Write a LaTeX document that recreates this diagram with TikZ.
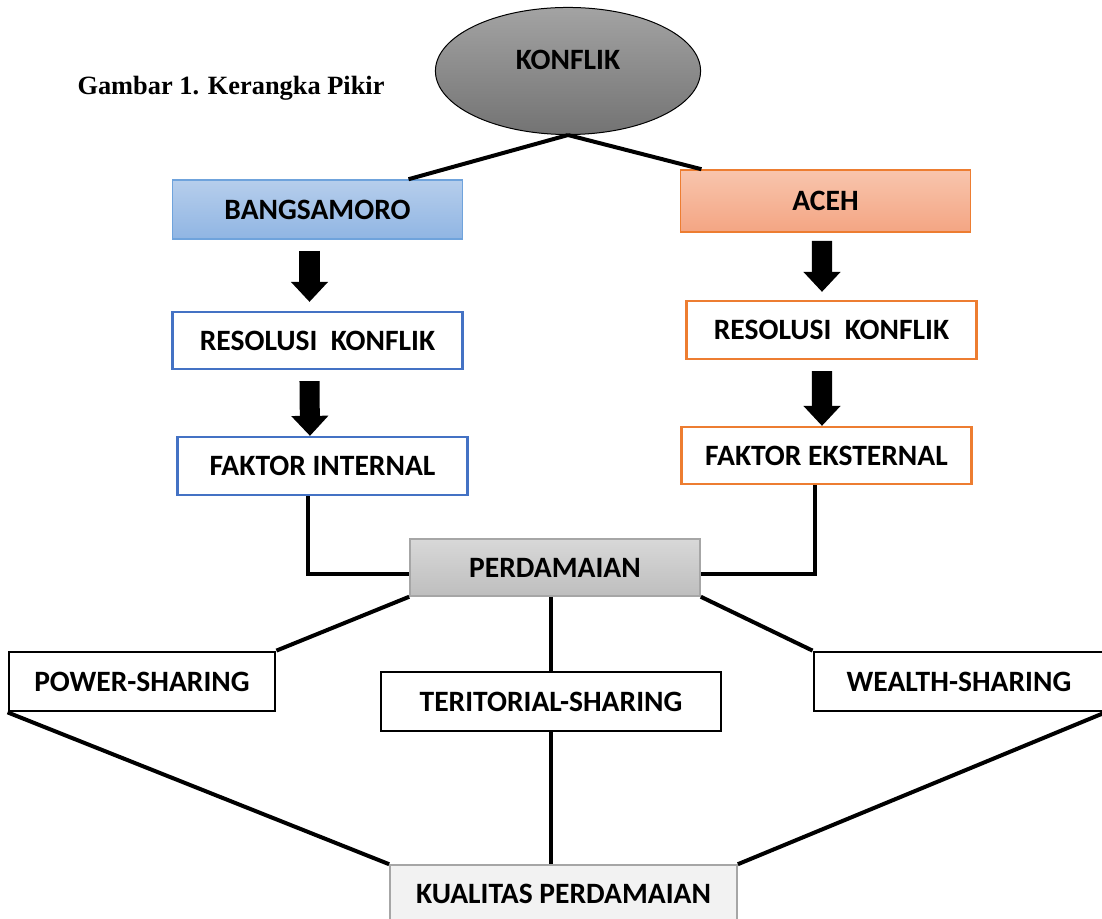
\documentclass[tikz,border=0pt]{standalone}
\usepackage{fontspec}
\setmainfont{Carlito}
\newfontfamily\judulfont{Liberation Serif}
\usetikzlibrary{shapes.geometric,arrows.meta}

\definecolor{abuatas}{HTML}{A3A3A3}
\definecolor{abubawah}{HTML}{737373}
\definecolor{biruatas}{HTML}{B6CEEC}
\definecolor{birubawah}{HTML}{90B5E3}
\definecolor{birutipis}{HTML}{6FA3DC}
\definecolor{birugaris}{HTML}{4472C4}
\definecolor{oranyeatas}{HTML}{F8C5AD}
\definecolor{oranyebawah}{HTML}{F4A583}
\definecolor{oranyegaris}{HTML}{ED7D31}
\definecolor{damaiatas}{HTML}{D8D8D8}
\definecolor{damaibawah}{HTML}{BEBEBE}
\definecolor{damaigaris}{HTML}{A6A6A6}
\definecolor{kualitasisi}{HTML}{F2F2F2}

\begin{document}
\begin{tikzpicture}[x=0.01cm,y=-0.01cm,
  every node/.style={font=\fontsize{8.4}{10}\selectfont\bfseries},
  kotak/.style={rectangle,minimum width=2.9cm,minimum height=0.58cm,inner sep=0pt},
  biru/.style={kotak,draw=birugaris,line width=0.022cm,fill=white},
  oranye/.style={kotak,draw=oranyegaris,line width=0.022cm,fill=white},
  hitam/.style={kotak,draw=black,line width=0.027cm,fill=white},
  garis/.style={line width=0.04cm},
  panah/.style={line width=0.2cm,-{Triangle[length=0.2cm,width=0.36cm]}}]
\useasboundingbox (0,0) rectangle (1102,919);
\clip (0,0) rectangle (1102,919);

\node[ellipse,draw,line width=0.01cm,top color=abuatas,bottom color=abubawah,
  minimum width=2.65cm,minimum height=1.27cm,label={[yshift=0.11cm]center:KONFLIK}] (konflik) at (568,71) {};
\node[anchor=base,font=\judulfont\fontsize{7.5}{9}\selectfont\bfseries] (judul) at (231,95) {Gambar 1. Kerangka Pikir};

\node[kotak,draw=birutipis,line width=0.015cm,top color=biruatas,bottom color=birubawah,minimum height=0.59cm] (bang) at (317.5,209.5) {BANGSAMORO};
\node[biru,minimum height=0.57cm] (resl) at (317.5,340.5) {RESOLUSI~~KONFLIK};
\node[biru] (fint) at (322.5,466) {FAKTOR INTERNAL};

\node[kotak,draw=oranyegaris,line width=0.015cm,top color=oranyeatas,bottom color=oranyebawah,minimum height=0.62cm] (aceh) at (825.5,201) {ACEH};
\node[oranye] (resr) at (831.5,330) {RESOLUSI~~KONFLIK};
\node[oranye,minimum height=0.57cm] (feks) at (826.5,455.5) {FAKTOR EKSTERNAL};

\node[kotak,draw=damaigaris,line width=0.015cm,top color=damaiatas,bottom color=damaibawah,minimum height=0.57cm] (perd) at (555,567.5) {PERDAMAIAN};
\node[hitam,minimum width=2.66cm,minimum height=0.59cm] (power) at (142,681.5) {POWER-SHARING};
\node[hitam,minimum width=3.4cm,minimum height=0.59cm] (terr) at (551,701.5) {TERITORIAL-SHARING};
\node[hitam,minimum height=0.59cm] (wealth) at (959,681.5) {WEALTH-SHARING};
\node[kotak,draw=damaigaris,line width=0.015cm,fill=kualitasisi,minimum width=3.47cm] (kual) at (563.5,894) {KUALITAS PERDAMAIAN};

\draw[garis] (konflik.south) -- ([xshift=0.91cm]bang.north);
\draw[garis] (konflik.south) -- ([xshift=-1.24cm]aceh.north);

\draw[panah] ([xshift=-0.08cm,yshift=-0.11cm]bang.south) -- ([xshift=-0.08cm,yshift=0.09cm]resl.north);
\draw[panah] ([xshift=-0.08cm,yshift=-0.11cm]resl.south) -- ([xshift=-0.125cm]fint.north);
\draw[panah] ([xshift=-0.035cm,yshift=-0.08cm]aceh.south) -- ([xshift=-0.095cm,yshift=0.08cm]resr.north);
\draw[panah] ([xshift=-0.095cm,yshift=-0.11cm]resr.south) -- ([xshift=-0.045cm]feks.north);

\draw[garis] ([xshift=-0.145cm]fint.south) |- ([yshift=-0.065cm]perd.west);
\draw[garis] ([xshift=-0.115cm]feks.south) |- ([yshift=-0.065cm]perd.east);

\draw[garis] (perd.south west) -- (power.north east);
\draw[garis] (terr.north |- perd.south) -- (terr.north);
\draw[garis] (perd.south east) -- (wealth.north west);

\draw[garis] (power.south west) -- (kual.north west);
\draw[garis] (terr.south) -- (terr.south |- kual.north);
\draw[garis] (wealth.south east) -- (kual.north east);
\end{tikzpicture}
\end{document}
